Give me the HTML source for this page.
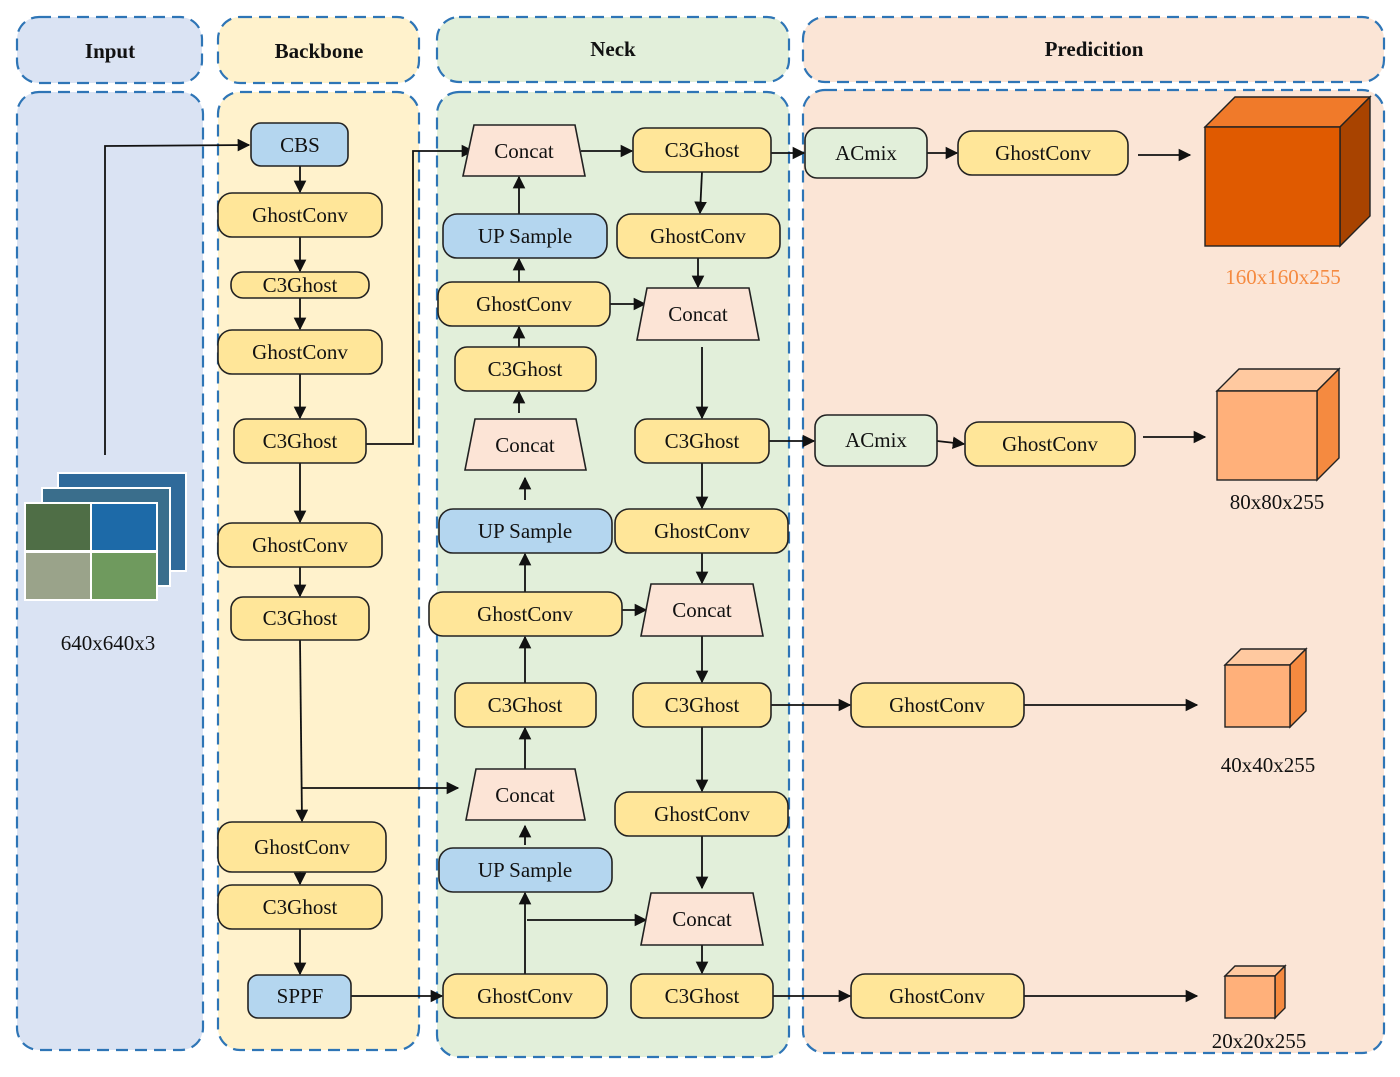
<!DOCTYPE html>
<html><head><meta charset="utf-8"><style>
body{margin:0;background:#fff;}
text{font-family:"Liberation Serif",serif;font-size:21px;fill:#111;text-anchor:middle;dominant-baseline:central;}
.h{font-weight:bold;font-size:21px;}
.y{fill:#ffe699;stroke:#222;stroke-width:1.6;}
.b{fill:#b4d6ef;stroke:#222;stroke-width:1.6;}
.c{fill:#fce4d6;stroke:#222;stroke-width:1.6;}
.a{fill:#e2efda;stroke:#222;stroke-width:1.6;}
.l{stroke:#111;stroke-width:1.8;fill:none;marker-end:url(#m);}
.d{stroke:#2e75b6;stroke-width:2.2;stroke-dasharray:12 7;}
</style></head><body>
<svg width="1400" height="1072" xmlns="http://www.w3.org/2000/svg">
<defs><marker id="m" viewBox="0 0 10 10" refX="9" refY="5" markerWidth="7" markerHeight="7" orient="auto"><path d="M0,0L10,5L0,10z" fill="#111"/></marker></defs>
<!-- panels -->
<rect class="d" x="17" y="17" width="185" height="66" rx="22" fill="#dae3f3"/>
<rect class="d" x="218" y="17" width="201" height="66" rx="22" fill="#fff2cc"/>
<rect class="d" x="437" y="17" width="352" height="65" rx="22" fill="#e2efda"/>
<rect class="d" x="803" y="17" width="581" height="65" rx="22" fill="#fbe5d6"/>
<rect class="d" x="17" y="92" width="186" height="958" rx="22" fill="#dae3f3"/>
<rect class="d" x="218" y="92" width="201" height="958" rx="22" fill="#fff2cc"/>
<rect class="d" x="437" y="92" width="352" height="965" rx="22" fill="#e2efda"/>
<rect class="d" x="803" y="90" width="581" height="963" rx="22" fill="#fbe5d6"/>
<text class="h" x="110" y="51">Input</text>
<text class="h" x="319" y="51">Backbone</text>
<text class="h" x="613" y="49">Neck</text>
<text class="h" x="1094" y="49">Predicition</text>
<!-- input image -->
<g stroke="#fff" stroke-width="2">
<rect x="58" y="473" width="128" height="98" fill="#2f6a9a"/>
<rect x="42" y="488" width="128" height="98" fill="#3a6e8c"/>
<rect x="25" y="503" width="66" height="48" fill="#4f6e46"/>
<rect x="91" y="503" width="66" height="48" fill="#1d6aa8"/>
<rect x="25" y="552" width="66" height="48" fill="#9aa38a"/>
<rect x="91" y="552" width="66" height="48" fill="#6f9a5e"/>
</g>
<text x="108" y="643">640x640x3</text>
<!-- lines -->
<polyline class="l" points="105,455 105,146 249,145"/>
<line class="l" x1="300" y1="166" x2="300" y2="192"/>
<line class="l" x1="300" y1="237" x2="300" y2="271"/>
<line class="l" x1="300" y1="298" x2="300" y2="329"/>
<line class="l" x1="300" y1="374" x2="300" y2="418"/>
<line class="l" x1="300" y1="463" x2="300" y2="522"/>
<line class="l" x1="300" y1="567" x2="300" y2="596"/>
<line class="l" x1="300" y1="640" x2="302" y2="821"/>
<line class="l" x1="300" y1="872" x2="300" y2="884"/>
<line class="l" x1="300" y1="929" x2="300" y2="974"/>
<polyline class="l" points="366,444 413,444 413,151 473,151"/>
<line class="l" x1="302" y1="788" x2="458" y2="788"/>
<line class="l" x1="351" y1="996" x2="442" y2="996"/>
<line class="l" x1="519" y1="214" x2="519" y2="177"/>
<line class="l" x1="519" y1="282" x2="519" y2="259"/>
<line class="l" x1="519" y1="347" x2="519" y2="327"/>
<line class="l" x1="519" y1="413" x2="519" y2="392"/>
<line class="l" x1="525" y1="500" x2="525" y2="478"/>
<line class="l" x1="525" y1="592" x2="525" y2="554"/>
<line class="l" x1="525" y1="683" x2="525" y2="637"/>
<line class="l" x1="525" y1="769" x2="525" y2="728"/>
<line class="l" x1="525" y1="845" x2="525" y2="826"/>
<line class="l" x1="525" y1="974" x2="525" y2="893"/>
<line class="l" x1="527" y1="920" x2="646" y2="920"/>
<line class="l" x1="610" y1="304" x2="645" y2="304"/>
<line class="l" x1="622" y1="610" x2="646" y2="610"/>
<line class="l" x1="581" y1="151" x2="632" y2="151"/>
<line class="l" x1="771" y1="153" x2="804" y2="153"/>
<line class="l" x1="702" y1="172" x2="700" y2="213"/>
<line class="l" x1="698" y1="258" x2="698" y2="287"/>
<line class="l" x1="702" y1="347" x2="702" y2="418"/>
<line class="l" x1="702" y1="463" x2="702" y2="508"/>
<line class="l" x1="702" y1="553" x2="702" y2="583"/>
<line class="l" x1="702" y1="636" x2="702" y2="682"/>
<line class="l" x1="702" y1="727" x2="702" y2="791"/>
<line class="l" x1="702" y1="836" x2="702" y2="888"/>
<line class="l" x1="702" y1="945" x2="702" y2="973"/>
<line class="l" x1="769" y1="441" x2="814" y2="441"/>
<line class="l" x1="771" y1="705" x2="850" y2="705"/>
<line class="l" x1="773" y1="996" x2="850" y2="996"/>
<line class="l" x1="927" y1="153" x2="957" y2="153"/>
<line class="l" x1="937" y1="441" x2="964" y2="444"/>
<line class="l" x1="1138" y1="155" x2="1190" y2="155"/>
<line class="l" x1="1143" y1="437" x2="1205" y2="437"/>
<line class="l" x1="1024" y1="705" x2="1197" y2="705"/>
<line class="l" x1="1024" y1="996" x2="1197" y2="996"/>
<!-- backbone nodes -->
<rect class="b" x="251" y="123" width="97" height="43" rx="10"/><text x="300" y="145">CBS</text>
<rect class="y" x="218" y="193" width="164" height="44" rx="14"/><text x="300" y="215">GhostConv</text>
<rect class="y" x="231" y="272" width="138" height="26" rx="12"/><text x="300" y="285">C3Ghost</text>
<rect class="y" x="218" y="330" width="164" height="44" rx="14"/><text x="300" y="352">GhostConv</text>
<rect class="y" x="234" y="419" width="132" height="44" rx="12"/><text x="300" y="441">C3Ghost</text>
<rect class="y" x="218" y="523" width="164" height="44" rx="14"/><text x="300" y="545">GhostConv</text>
<rect class="y" x="231" y="597" width="138" height="43" rx="12"/><text x="300" y="618">C3Ghost</text>
<rect class="y" x="218" y="822" width="168" height="50" rx="14"/><text x="302" y="847">GhostConv</text>
<rect class="y" x="218" y="885" width="164" height="44" rx="14"/><text x="300" y="907">C3Ghost</text>
<rect class="b" x="248" y="975" width="103" height="43" rx="10"/><text x="300" y="996">SPPF</text>
<!-- neck left -->
<polygon class="c" points="474,125 575,125 585,176 463,176"/><text x="524" y="151">Concat</text>
<rect class="b" x="443" y="214" width="164" height="44" rx="14"/><text x="525" y="236">UP Sample</text>
<rect class="y" x="438" y="282" width="172" height="44" rx="14"/><text x="524" y="304">GhostConv</text>
<rect class="y" x="455" y="347" width="141" height="44" rx="12"/><text x="525" y="369">C3Ghost</text>
<polygon class="c" points="475,419 576,419 586,470 465,470"/><text x="525" y="445">Concat</text>
<rect class="b" x="439" y="509" width="173" height="44" rx="14"/><text x="525" y="531">UP Sample</text>
<rect class="y" x="429" y="592" width="193" height="44" rx="14"/><text x="525" y="614">GhostConv</text>
<rect class="y" x="455" y="683" width="141" height="44" rx="12"/><text x="525" y="705">C3Ghost</text>
<polygon class="c" points="476,769 575,769 585,820 466,820"/><text x="525" y="795">Concat</text>
<rect class="b" x="439" y="848" width="173" height="44" rx="14"/><text x="525" y="870">UP Sample</text>
<rect class="y" x="443" y="974" width="164" height="44" rx="14"/><text x="525" y="996">GhostConv</text>
<!-- neck right -->
<rect class="y" x="633" y="128" width="138" height="44" rx="12"/><text x="702" y="150">C3Ghost</text>
<rect class="y" x="617" y="214" width="163" height="44" rx="14"/><text x="698" y="236">GhostConv</text>
<polygon class="c" points="647,288 749,288 759,340 637,340"/><text x="698" y="314">Concat</text>
<rect class="y" x="635" y="419" width="134" height="44" rx="12"/><text x="702" y="441">C3Ghost</text>
<rect class="y" x="615" y="509" width="173" height="44" rx="14"/><text x="702" y="531">GhostConv</text>
<polygon class="c" points="651,584 753,584 763,636 641,636"/><text x="702" y="610">Concat</text>
<rect class="y" x="633" y="683" width="138" height="44" rx="12"/><text x="702" y="705">C3Ghost</text>
<rect class="y" x="615" y="792" width="173" height="44" rx="14"/><text x="702" y="814">GhostConv</text>
<polygon class="c" points="651,893 753,893 763,945 641,945"/><text x="702" y="919">Concat</text>
<rect class="y" x="631" y="974" width="142" height="44" rx="12"/><text x="702" y="996">C3Ghost</text>
<!-- prediction -->
<rect class="a" x="805" y="128" width="122" height="50" rx="12"/><text x="866" y="153">ACmix</text>
<rect class="y" x="958" y="131" width="170" height="44" rx="14"/><text x="1043" y="153">GhostConv</text>
<rect class="a" x="815" y="415" width="122" height="51" rx="12"/><text x="876" y="440">ACmix</text>
<rect class="y" x="965" y="422" width="170" height="44" rx="14"/><text x="1050" y="444">GhostConv</text>
<rect class="y" x="851" y="683" width="173" height="44" rx="14"/><text x="937" y="705">GhostConv</text>
<rect class="y" x="851" y="974" width="173" height="44" rx="14"/><text x="937" y="996">GhostConv</text>
<!-- cubes -->
<g stroke="#222" stroke-width="1.4">
<polygon points="1205,127 1235,97 1370,97 1340,127" fill="#f07a2a"/>
<polygon points="1340,127 1370,97 1370,216 1340,246" fill="#a84300"/>
<rect x="1205" y="127" width="135" height="119" fill="#e05a00"/>
<polygon points="1217,391 1239,369 1339,369 1317,391" fill="#ffc9a0"/>
<polygon points="1317,391 1339,369 1339,458 1317,480" fill="#f58a40"/>
<rect x="1217" y="391" width="100" height="89" fill="#ffb07a"/>
<polygon points="1225,665 1241,649 1306,649 1290,665" fill="#ffc9a0"/>
<polygon points="1290,665 1306,649 1306,711 1290,727" fill="#f58a40"/>
<rect x="1225" y="665" width="65" height="62" fill="#ffb07a"/>
<polygon points="1225,976 1235,966 1285,966 1275,976" fill="#ffc9a0"/>
<polygon points="1275,976 1285,966 1285,1008 1275,1018" fill="#f58a40"/>
<rect x="1225" y="976" width="50" height="42" fill="#ffb07a"/>
</g>
<text x="1283" y="277" style="fill:#f58a40">160x160x255</text>
<text x="1277" y="502">80x80x255</text>
<text x="1268" y="765">40x40x255</text>
<text x="1259" y="1041">20x20x255</text>
</svg>
</body></html>
